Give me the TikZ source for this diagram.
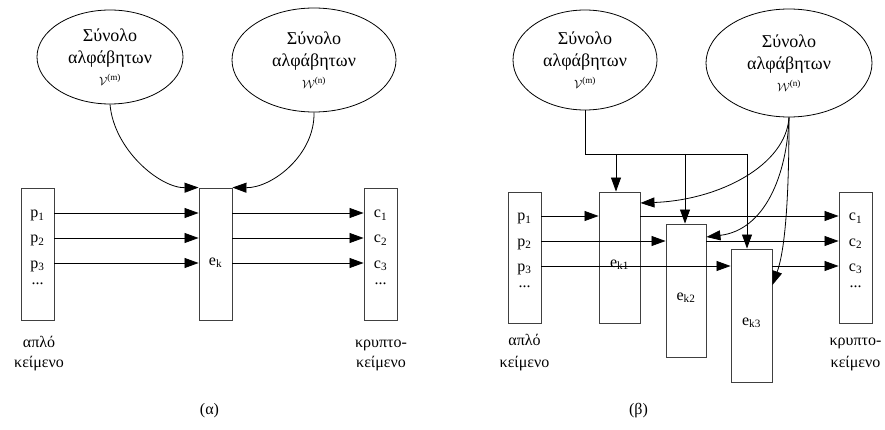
\documentclass[tikz,border=0pt]{standalone}
\usepackage{fontspec}
\setmainfont{Liberation Serif}
\usetikzlibrary{shapes.geometric,arrows.meta}
\newcommand{\scrsize}{\fontsize{13}{13}\selectfont}
\begin{document}
\begin{tikzpicture}[x=1pt,y=-1pt,
  every node/.style={font=\fontsize{16}{21}\selectfont, inner sep=0pt},
  ell/.style={draw, ellipse, line width=0.8pt, align=center, font=\fontsize{18}{22}\selectfont},
  box/.style={draw=black!75, line width=0.9pt, rectangle},
  con/.style={line width=0.8pt},
  arr/.style={con, -{Triangle[length=14pt,width=10pt]}},
  lab/.style={anchor=base},
]
\useasboundingbox (0,0) rectangle (885,430);

% ---------- (alpha) ----------
\node[ell, minimum width=146pt, minimum height=94pt] (E1) at (110,57)
  {Σύνολο\\αλφάβητων\\{\scrsize$\mathcal{V}$\textsuperscript{(m)}}};
\node[ell, minimum width=164pt, minimum height=104pt] (E2) at (314,60)
  {Σύνολο\\αλφάβητων\\{\scrsize$\mathcal{W}$\textsuperscript{(n)}}};

\node[box, minimum width=33pt, minimum height=132pt] (Pa) at (37.5,254) {};
\node[box, minimum width=33pt, minimum height=132pt] (Ek) at (215.5,254) {};
\node[box, minimum width=33pt, minimum height=132pt] (Ca) at (380.5,254) {};

\coordinate (ra1) at (0,213);
\coordinate (ra2) at (0,238);
\coordinate (ra3) at (0,263);

\node[lab] (pa1) at (37.5,218) {p\textsubscript{1}};
\node[lab] (pa2) at (37.5,243) {p\textsubscript{2}};
\node[lab] (pa3) at (37.5,268) {p\textsubscript{3}};
\node[lab] (pa4) at (37.5,284) {...};
\node[lab] (ca1) at (380.5,218) {c\textsubscript{1}};
\node[lab] (ca2) at (380.5,243) {c\textsubscript{2}};
\node[lab] (ca3) at (380.5,268) {c\textsubscript{3}};
\node[lab] (ca4) at (380.5,284) {...};
\node[lab] (eka) at (215.5,265) {e\textsubscript{k}};

\foreach \r in {ra1,ra2,ra3}{
  \draw[arr] (Pa.east |- \r) -- (Ek.west |- \r);
  \draw[arr] (Ek.east |- \r) -- (Ca.west |- \r);
}
\draw[arr] (E1.south) .. controls (114,150) and (160,188) .. (Ek.north west);
\draw[arr] (E2.south) .. controls (315,155) and (272,188) .. (Ek.north east);

\node[lab] (ta1) at (39,347) {απλό};
\node[lab] (ta2) at (39,367) {κείμενο};
\node[lab] (tc1) at (381,347) {κρυπτο-};
\node[lab] (tc2) at (381,367) {κείμενο};
\node[lab] (capa) at (209.5,414) {(α)};

% ---------- (beta) ----------
\node[ell, minimum width=144pt, minimum height=100pt] (E3) at (585,60)
  {Σύνολο\\αλφάβητων\\{\scrsize$\mathcal{V}$\textsuperscript{(m)}}};
\node[ell, minimum width=166pt, minimum height=108pt] (E4) at (789,63)
  {Σύνολο\\αλφάβητων\\{\scrsize$\mathcal{W}$\textsuperscript{(n)}}};

\node[box, minimum width=33pt, minimum height=131pt] (Pb) at (524.5,257.5) {};
\node[box, minimum width=41pt, minimum height=131pt] (Ek1) at (619.5,257.5) {};
\node[box, minimum width=40pt, minimum height=133pt] (Ek2) at (686,290.5) {};
\node[box, minimum width=41pt, minimum height=133pt] (Ek3) at (751.5,315.5) {};
\node[box, minimum width=33pt, minimum height=131pt] (Cb) at (855.5,257.5) {};

\coordinate (rb1) at (0,216);
\coordinate (rb2) at (0,241);
\coordinate (rb3) at (0,266);

\node[lab] (pb1) at (524.5,221) {p\textsubscript{1}};
\node[lab] (pb2) at (524.5,246) {p\textsubscript{2}};
\node[lab] (pb3) at (524.5,271) {p\textsubscript{3}};
\node[lab] (pb4) at (524.5,287) {...};
\node[lab] (cb1) at (855.5,221) {c\textsubscript{1}};
\node[lab] (cb2) at (855.5,246) {c\textsubscript{2}};
\node[lab] (cb3) at (855.5,271) {c\textsubscript{3}};
\node[lab] (cb4) at (855.5,287) {...};
\node[lab] (ek1) at (619.5,267) {e\textsubscript{k1}};
\node[lab] (ek2) at (686,300) {e\textsubscript{k2}};
\node[lab] (ek3) at (751.5,325) {e\textsubscript{k3}};

\draw[arr] (Pb.east |- rb1) -- (Ek1.west |- rb1);
\draw[arr] (Pb.east |- rb2) -- (Ek2.west |- rb2);
\draw[arr] (Pb.east |- rb3) -- (Ek3.west |- rb3);
\draw[arr] (Ek1.east |- rb1) -- (Cb.west |- rb1);
\draw[arr] (Ek2.east |- rb2) -- (Cb.west |- rb2);
\draw[arr] (Ek3.east |- rb3) -- (Cb.west |- rb3);

\coordinate (j0) at (585,154);
\coordinate (ja) at (616,154);
\coordinate (jb) at (685,154);
\coordinate (jc) at (747,154);
\draw[con] (E3.south) -- (j0) -- (jc);
\draw[arr] (ja) -- (ja |- Ek1.north);
\draw[arr] (jb) -- (jb |- Ek2.north);
\draw[arr] (jc) -- (jc |- Ek3.north);

\coordinate (h1) at (0,203);
\coordinate (h2) at (0,237);
\coordinate (h3) at (0,285);
\draw[arr] (E4.south) .. controls (786,165) and (720,200) .. (Ek1.east |- h1);
\draw[arr] (E4.south) .. controls (787,175) and (765,230) .. (Ek2.east |- h2);
\draw[arr] (E4.south) .. controls (789,200) and (785,250) .. (Ek3.east |- h3);

\node[lab] (tb1) at (524.5,345) {απλό};
\node[lab] (tb2) at (524.5,367) {κείμενο};
\node[lab] (td1) at (855.5,345) {κρυπτο-};
\node[lab] (td2) at (855.5,367) {κείμενο};
\node[lab] (capb) at (638.5,414) {(β)};
\end{tikzpicture}
\end{document}
